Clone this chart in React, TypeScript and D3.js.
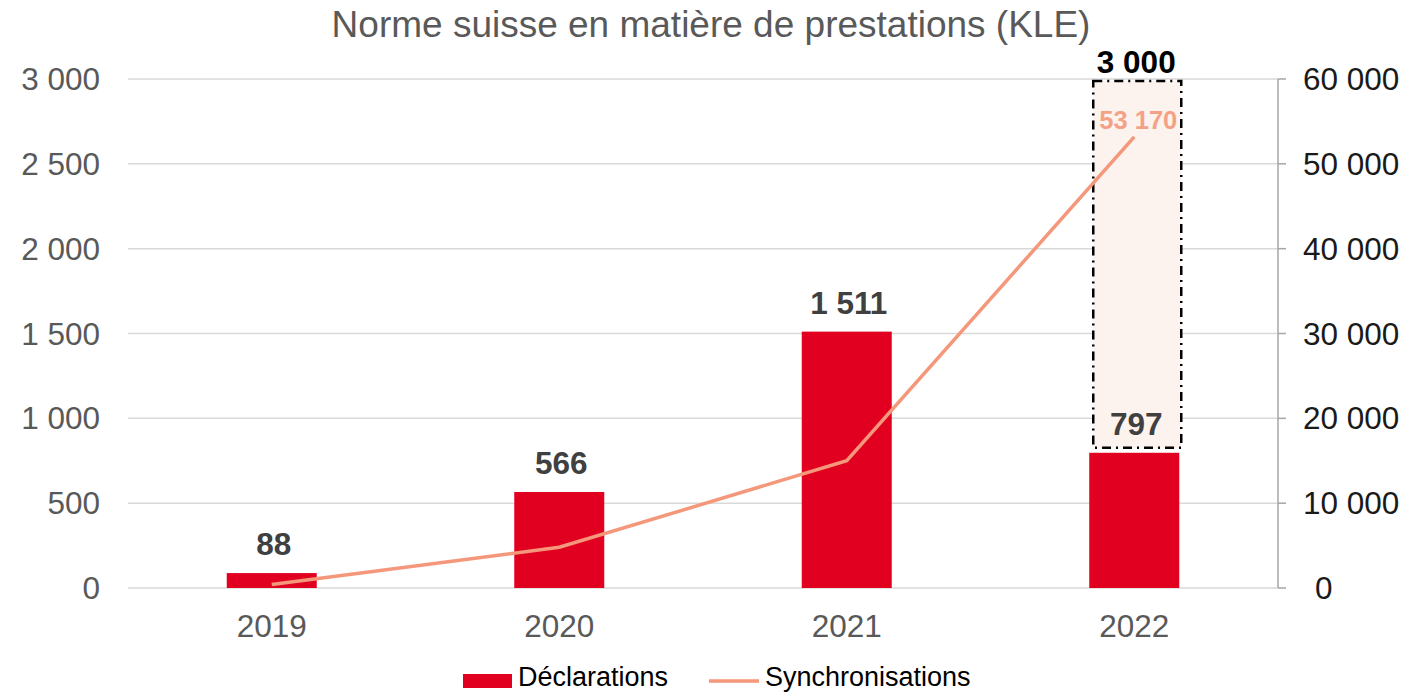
import React, { useEffect, useRef } from "react";
import * as d3 from "d3";

const years = ["2019", "2020", "2021", "2022"];
const declarations = [88, 566, 1511, 797];
const synchronisations = [400, 4800, 15000, 53170];
const target2022 = 3000;
const leftTicks = [0, 500, 1000, 1500, 2000, 2500, 3000];
const rightTicks = [0, 10000, 20000, 30000, 40000, 50000, 60000];

const fmt = (v: number) => d3.format(",")(v).replace(/,/g, " ");

export default function App() {
  const ref = useRef<SVGSVGElement>(null);

  useEffect(() => {
    const width = 1416;
    const height = 693;
    const margin = { top: 79, left: 128, right: 138, bottom: 105 };
    const font = "'Liberation Sans', Arial, sans-serif";

    const svg = d3.select(ref.current);
    svg.selectAll("*").remove();
    svg.attr("width", width).attr("height", height).style("font-family", font);

    const x = d3
      .scaleBand()
      .domain(years)
      .range([margin.left, width - margin.right]);
    const y = d3
      .scaleLinear()
      .domain([0, 3000])
      .range([height - margin.bottom, margin.top]);
    const y2 = d3
      .scaleLinear()
      .domain([0, 60000])
      .range([height - margin.bottom, margin.top]);

    const barW = 90;
    const cx = (d: string) => (x(d) as number) + x.bandwidth() / 2;

    // title
    svg
      .append("text")
      .attr("x", 711)
      .attr("y", 37)
      .attr("text-anchor", "middle")
      .attr("font-size", 37)
      .attr("fill", "#595959")
      .text("Norme suisse en matière de prestations (KLE)");

    // grid
    svg
      .append("g")
      .selectAll("line")
      .data(leftTicks)
      .enter()
      .append("line")
      .attr("x1", margin.left)
      .attr("x2", width - margin.right)
      .attr("y1", (d) => y(d))
      .attr("y2", (d) => y(d))
      .attr("stroke", "#d9d9d9")
      .attr("stroke-width", 1.5);

    // left axis labels
    svg
      .append("g")
      .selectAll("text")
      .data(leftTicks)
      .enter()
      .append("text")
      .attr("x", 100)
      .attr("y", (d) => y(d) + 11)
      .attr("text-anchor", "end")
      .attr("font-size", 31.5)
      .attr("fill", "#595959")
      .text((d) => fmt(d));

    // right axis
    const rx = width - margin.right;
    const ra = svg.append("g");
    ra.append("line")
      .attr("x1", rx)
      .attr("x2", rx)
      .attr("y1", y2(0))
      .attr("y2", y2(60000))
      .attr("stroke", "#a6a6a6")
      .attr("stroke-width", 1.5);
    ra.selectAll("line.t")
      .data(rightTicks)
      .enter()
      .append("line")
      .attr("class", "t")
      .attr("x1", rx)
      .attr("x2", rx + 8)
      .attr("y1", (d) => y2(d))
      .attr("y2", (d) => y2(d))
      .attr("stroke", "#a6a6a6")
      .attr("stroke-width", 1.5);
    ra.selectAll("text")
      .data(rightTicks)
      .enter()
      .append("text")
      .attr("x", (d) => (d === 0 ? rx + 37 : rx + 25))
      .attr("y", (d) => y2(d) + 11)
      .attr("font-size", 31.5)
      .attr("fill", "#1a1a1a")
      .text((d) => fmt(d));

    // x labels
    svg
      .append("g")
      .selectAll("text")
      .data(years)
      .enter()
      .append("text")
      .attr("x", (d) => cx(d))
      .attr("y", 637)
      .attr("text-anchor", "middle")
      .attr("font-size", 31.5)
      .attr("fill", "#595959")
      .text((d) => d);

    // 2022 target box
    const last = years[years.length - 1];
    const boxTop = y(target2022);
    const boxBottom = y(declarations[3]) - 5;
    svg
      .append("rect")
      .attr("x", cx(last) - 41)
      .attr("y", boxTop + 2)
      .attr("width", 88)
      .attr("height", boxBottom - boxTop - 2)
      .attr("fill", "#fcf2ee")
      .attr("stroke", "#000")
      .attr("stroke-width", 2.5)
      .attr("stroke-dasharray", "9,5,2,5");
    svg
      .append("text")
      .attr("x", cx(last) + 2)
      .attr("y", boxTop - 6)
      .attr("text-anchor", "middle")
      .attr("font-size", 31.5)
      .attr("font-weight", "bold")
      .attr("fill", "#000")
      .text(fmt(target2022));

    // bars
    svg
      .append("g")
      .selectAll("rect")
      .data(declarations)
      .enter()
      .append("rect")
      .attr("x", (_, i) => cx(years[i]) - barW / 2)
      .attr("y", (d) => y(d))
      .attr("width", barW)
      .attr("height", (d) => y(0) - y(d))
      .attr("fill", "#e10020");

    // bar labels
    svg
      .append("g")
      .selectAll("text")
      .data(declarations)
      .enter()
      .append("text")
      .attr("x", (_, i) => cx(years[i]) + 2)
      .attr("y", (d) => y(d) - 18)
      .attr("text-anchor", "middle")
      .attr("font-size", 31.5)
      .attr("font-weight", "bold")
      .attr("fill", "#404040")
      .text((d) => fmt(d));

    // line
    const line = d3
      .line<number>()
      .x((_, i) => cx(years[i]))
      .y((d) => y2(d));
    svg
      .append("path")
      .datum(synchronisations)
      .attr("d", line)
      .attr("fill", "none")
      .attr("stroke", "#f4977a")
      .attr("stroke-width", 3.5);
    svg
      .append("text")
      .attr("x", cx(last) + 4)
      .attr("y", y2(synchronisations[3]) - 8)
      .attr("text-anchor", "middle")
      .attr("font-size", 25.5)
      .attr("font-weight", "bold")
      .attr("fill", "#f4a287")
      .text(fmt(synchronisations[3]));

    // legend
    const lg = svg.append("g");
    lg.append("rect")
      .attr("x", 463)
      .attr("y", 674)
      .attr("width", 49)
      .attr("height", 14)
      .attr("fill", "#e10020");
    lg.append("text")
      .attr("x", 518)
      .attr("y", 686)
      .attr("font-size", 27)
      .attr("fill", "#000")
      .text("Déclarations");
    lg.append("line")
      .attr("x1", 709)
      .attr("x2", 759)
      .attr("y1", 681)
      .attr("y2", 681)
      .attr("stroke", "#f4977a")
      .attr("stroke-width", 3.5);
    lg.append("text")
      .attr("x", 765)
      .attr("y", 686)
      .attr("font-size", 27)
      .attr("fill", "#000")
      .text("Synchronisations");
  }, []);

  return (
    <svg
      ref={ref}
      style={{ position: "absolute", left: 0, top: 0, display: "block" }}
    />
  );
}
